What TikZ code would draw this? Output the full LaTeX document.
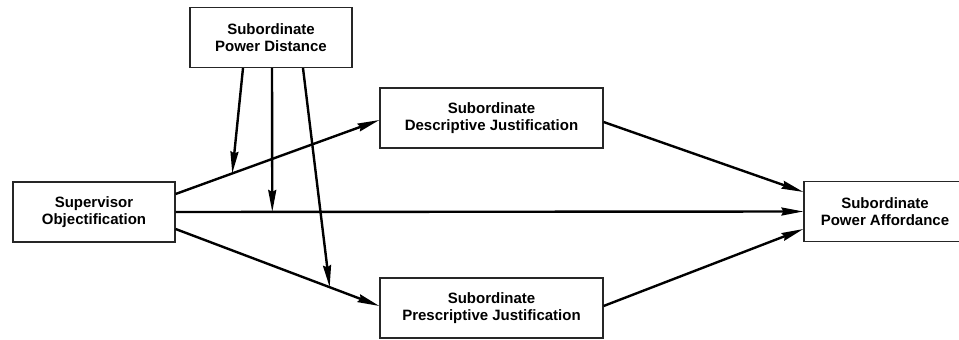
\documentclass[tikz,border=0pt]{standalone}
\usepackage{fontspec}
\setmainfont{Liberation Sans}
\usetikzlibrary{arrows.meta,calc}
\begin{document}
\begin{tikzpicture}[x=1pt,y=-1pt,
  box/.style={draw=black!85,line width=1.2pt,rectangle,align=center,inner sep=0pt,
    minimum height=60pt,font=\bfseries\fontsize{15}{17}\selectfont},
  conn/.style={line width=2.4pt,-{Stealth[length=22pt,width=8pt,inset=2pt]}}]
\clip (0,0) rectangle (959,340);
\fill[white] (0,0) rectangle (959,340);
\node[box,minimum width=162pt] (so) at (94,212) {Supervisor\\Objectification};
\node[box,minimum width=162pt] (pd) at (271,37.5) {Subordinate\\Power Distance};
\node[box,minimum width=223pt] (desc) at (491.5,118) {Subordinate\\Descriptive Justification};
\node[box,minimum width=223pt] (presc) at (491.5,308) {Subordinate\\Prescriptive Justification};
\node[box,minimum width=162pt] (aff) at (885,211.5) {Subordinate\\Power Affordance};
\coordinate (s1) at ($(so.east)+(0,-18)$);
\coordinate (e1) at ($(desc.west)+(0,2)$);
\coordinate (s3) at ($(so.east)+(0,17)$);
\coordinate (e3) at ($(presc.west)+(0,-2)$);
\draw[conn] (s1) -- (e1);
\draw[conn] (so.east) -- (aff.west);
\draw[conn] (s3) -- (e3);
\draw[conn] ($(desc.east)+(0,4)$) -- ($(aff.west)+(0,-19.5)$);
\draw[conn] ($(presc.east)+(0,-2)$) -- ($(aff.west)+(0,17.5)$);
\path (s1) -- (e1) coordinate[pos=0.278] (m1);
\path (so.east) -- (aff.west) coordinate[pos=0.154] (m2);
\path (s3) -- (e3) coordinate[pos=0.756] (m3);
\draw[conn] ($(pd.south)+(-28,0)$) -- (m1);
\draw[conn] ($(pd.south)+(1,0)$) -- (m2);
\draw[conn] ($(pd.south)+(32,0)$) -- (m3);
\end{tikzpicture}
\end{document}
